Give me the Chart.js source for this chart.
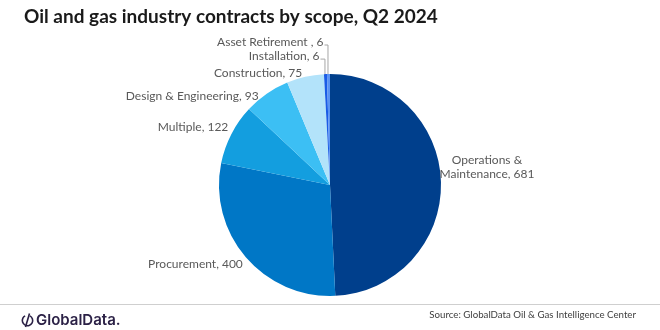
<!DOCTYPE html>
<html>
<head>
<meta charset="utf-8">
<script src="https://cdn.jsdelivr.net/npm/chart.js@4"></script>
<style>
  html, body { margin: 0; padding: 0; background: #fff; }
  #wrap { width: 660px; height: 330px; position: relative; }
</style>
</head>
<body>
<div id="wrap"><canvas id="scopePie" width="660" height="330"></canvas></div>
<script>
// data
const scopes = ['Operations & Maintenance', 'Procurement', 'Multiple', 'Design & Engineering',
                'Construction', 'Installation', 'Asset Retirement '];
const contracts = [681, 400, 122, 93, 75, 6, 6];
const sliceColors = ['#003F8C', '#0077C6', '#139EDF', '#3CBFF4', '#B3E3FA', '#1A5CE6', '#5A93F2'];

// label nudges from the slice edge (dx, dy), leader line flag
const labelNudge = [[46, -15], [-3, 7], [-3, -7], [-8, 2], [-3, -4], [-6, -18], [-5, -32]];
const withLeader = [false, false, false, false, false, true, true];

const LABEL_FONT = '12px Lato, "Noto Sans", sans-serif';

const decorations = {
  id: 'decorations',
  afterDraw(chart) {
    const ctx = chart.ctx;
    const arcs = chart.getDatasetMeta(0).data;
    ctx.save();
    ctx.font = LABEL_FONT;
    ctx.fillStyle = '#595959';
    ctx.textBaseline = 'middle';
    arcs.forEach((arc, i) => {
      const p = arc.getProps(['x', 'y', 'startAngle', 'endAngle', 'outerRadius'], true);
      const mid = (p.startAngle + p.endAngle) / 2;
      const ex = p.x + Math.cos(mid) * p.outerRadius;
      const ey = p.y + Math.sin(mid) * p.outerRadius;
      const tx = ex + labelNudge[i][0];
      const ty = ey + labelNudge[i][1];
      const text = scopes[i] + ', ' + contracts[i];
      if (i === 0) {
        ctx.textAlign = 'center';
        ctx.fillText('Operations &', tx, ty - 7);
        ctx.fillText('Maintenance, ' + contracts[i], tx, ty + 7);
        return;
      }
      ctx.textAlign = 'right';
      ctx.fillText(text, tx, ty);
      if (withLeader[i]) {
        ctx.strokeStyle = '#a6a6a6';
        ctx.lineWidth = 1;
        ctx.beginPath();
        ctx.moveTo(tx + 1, ty + 3);
        ctx.lineTo(ex - 0.5, ty + 3);
        ctx.lineTo(ex - 0.5, ey);
        ctx.stroke();
      }
    });

    // title
    ctx.textAlign = 'left';
    ctx.textBaseline = 'alphabetic';
    ctx.fillStyle = '#1a1a1a';
    ctx.font = 'bold 19px Lato, "Noto Sans", sans-serif';
    ctx.fillText('Oil and gas industry contracts by scope, Q2 2024', 24, 23);

    // footer rule
    ctx.strokeStyle = '#cfcfcf';
    ctx.lineWidth = 1;
    ctx.beginPath();
    ctx.moveTo(0, 304.5);
    ctx.lineTo(660, 304.5);
    ctx.stroke();

    // logo
    ctx.strokeStyle = '#2b2146';
    ctx.lineWidth = 1.6;
    ctx.beginPath();
    ctx.arc(27.5, 320.5, 5.2, -Math.PI * 0.35, Math.PI * 1.35);
    ctx.stroke();
    ctx.beginPath();
    ctx.moveTo(29.5, 313.5);
    ctx.lineTo(25.5, 327);
    ctx.stroke();
    ctx.fillStyle = '#2b2146';
    ctx.font = '600 15px Inter, "Noto Sans", sans-serif';
    ctx.textBaseline = 'middle';
    ctx.fillText('GlobalData.', 36, 320.5);

    // source
    ctx.textAlign = 'right';
    ctx.fillStyle = '#404040';
    ctx.font = '9.7px Lato, "Noto Sans", sans-serif';
    ctx.fillText('Source: GlobalData Oil & Gas Intelligence Center', 636, 315);
    ctx.restore();
  }
};

new Chart(document.getElementById('scopePie').getContext('2d'), {
  type: 'pie',
  data: {
    labels: scopes,
    datasets: [{
      data: contracts,
      backgroundColor: sliceColors,
      borderWidth: 0
    }]
  },
  options: {
    responsive: false,
    animation: false,
    layout: { padding: { top: 74, bottom: 34, left: 0, right: 0 } },
    plugins: { legend: { display: false }, tooltip: { enabled: false } }
  },
  plugins: [decorations]
});
</script>
</body>
</html>
